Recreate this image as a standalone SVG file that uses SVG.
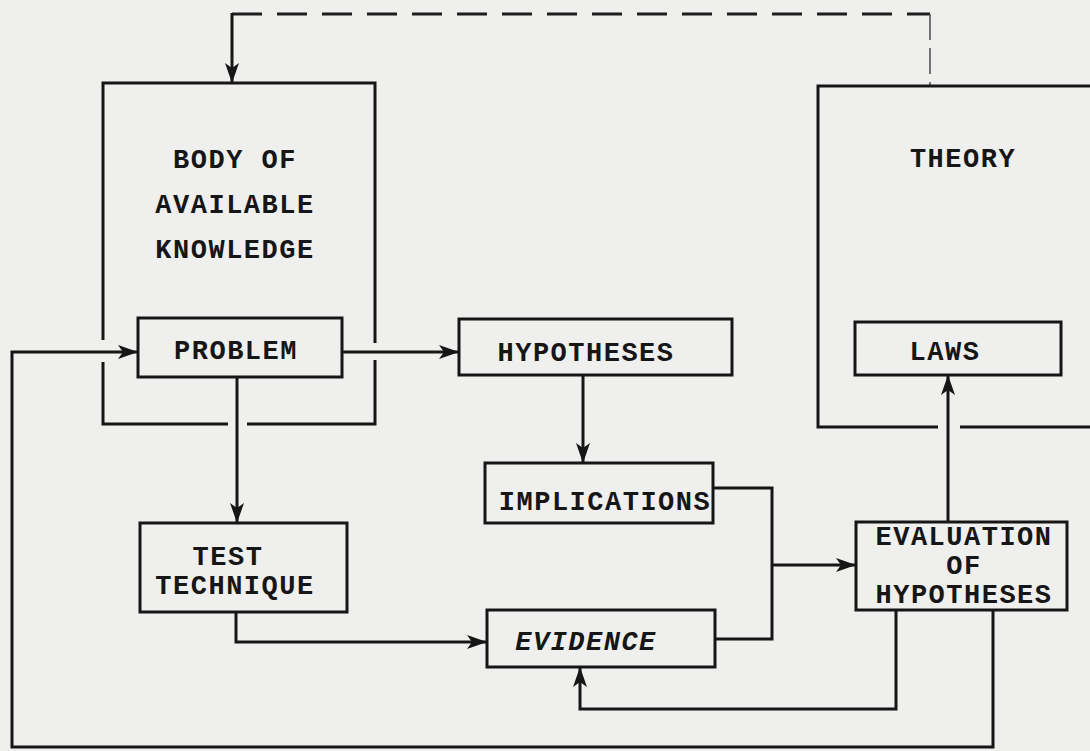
<svg xmlns="http://www.w3.org/2000/svg" width="1090" height="751" viewBox="0 0 1090 751">
  <defs>
    <marker id="arr" markerUnits="userSpaceOnUse" markerWidth="20" markerHeight="16" viewBox="0 0 20 16" refX="19" refY="8" orient="auto">
      <path d="M0,1 L20,8 L0,15 L5,8 Z" fill="#161616"/>
    </marker>
    <style>
      .box { fill: none; stroke: #161616; stroke-width: 3; }
      .con { fill: none; stroke: #161616; stroke-width: 3; }
      .dash { fill: none; stroke: #1e1e1e; stroke-width: 3.2; stroke-dasharray: 30 15; }
      .thin { fill: none; stroke: #555; stroke-width: 1.6; stroke-dasharray: 26 8; }
      .t { font-family: "Liberation Mono", "Courier New", monospace; font-weight: bold; font-size: 27px; letter-spacing: 1.5px; fill: #161616; text-anchor: middle; }
      .it { font-style: italic; }
    </style>
  </defs>
  <rect width="1090" height="751" fill="#efefed"/>

  <g id="connectors">
    <!-- dashed feedback from theory to body of knowledge -->
    <path class="dash" d="M232,14 H930"/>
    <path class="thin" d="M930,14 V86"/>
    <path class="con" d="M232,13 V82" marker-end="url(#arr)"/>
    <!-- problem -> hypotheses -->
    <path class="con" d="M342,352 H458" marker-end="url(#arr)"/>
    <!-- outer loop: evaluation -> problem -->
    <path class="con" d="M993,610 V747 H12 V352 H137" marker-end="url(#arr)"/>
    <!-- problem -> test technique -->
    <path class="con" d="M237,377 V522" marker-end="url(#arr)"/>
    <!-- hypotheses -> implications -->
    <path class="con" d="M583,375 V462" marker-end="url(#arr)"/>
    <!-- implications / evidence -> evaluation -->
    <path class="con" d="M713,488 H772 V639 H715"/>
    <path class="con" d="M772,565 H855" marker-end="url(#arr)"/>
    <!-- test technique -> evidence -->
    <path class="con" d="M236,612 V642 H486" marker-end="url(#arr)"/>
    <!-- evaluation -> evidence loop -->
    <path class="con" d="M896,610 V709 H580 V668" marker-end="url(#arr)"/>
    <!-- evaluation -> laws -->
    <path class="con" d="M948,522 V376" marker-end="url(#arr)"/>
  </g>

  <g id="body-of-knowledge">
    <path class="box" d="M103,340 V83 H375 V343 M375,360 V424 H247 M228,424 H103 V362"/>
    <text class="t" x="235" y="168">BODY OF</text>
    <text class="t" x="235" y="213">AVAILABLE</text>
    <text class="t" x="235" y="258">KNOWLEDGE</text>
  </g>

  <g id="theory">
    <path class="box" d="M1095,86 H818 V427 H938 M960,427 H1095"/>
    <text class="t" x="963" y="167">THEORY</text>
  </g>

  <g id="problem">
    <rect class="box" x="138" y="318" width="204" height="59"/>
    <text class="t" x="236" y="359">PROBLEM</text>
  </g>

  <g id="hypotheses">
    <rect class="box" x="459" y="319" width="273" height="56"/>
    <text class="t" x="586" y="361">HYPOTHESES</text>
  </g>

  <g id="laws">
    <rect class="box" x="855" y="322" width="206" height="53"/>
    <text class="t" x="945" y="360">LAWS</text>
  </g>

  <g id="implications">
    <rect class="box" x="485" y="463" width="228" height="60"/>
    <text class="t" x="605" y="510">IMPLICATIONS</text>
  </g>

  <g id="test-technique">
    <rect class="box" x="140" y="523" width="207" height="89"/>
    <text class="t" x="228" y="565">TEST</text>
    <text class="t" x="235" y="594">TECHNIQUE</text>
  </g>

  <g id="evidence">
    <rect class="box" x="487" y="610" width="228" height="57"/>
    <text class="t it" x="586" y="650">EVIDENCE</text>
  </g>

  <g id="evaluation">
    <rect class="box" x="856" y="522" width="211" height="88"/>
    <text class="t" x="964" y="545">EVALUATION</text>
    <text class="t" x="964" y="574">OF</text>
    <text class="t" x="964" y="603">HYPOTHESES</text>
  </g>
</svg>
